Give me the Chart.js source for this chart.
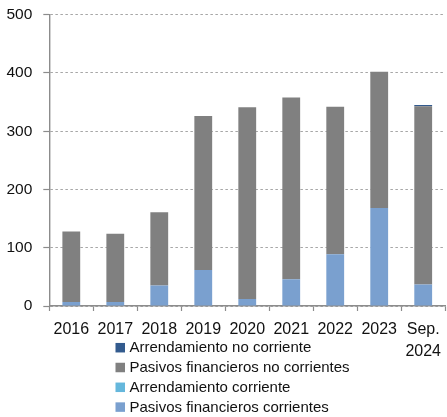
<!DOCTYPE html>
<html>
<head>
<meta charset="utf-8">
<script src="https://cdn.jsdelivr.net/npm/chart.js@4/dist/chart.umd.min.js"></script>
<style>
  html, body { margin: 0; padding: 0; background: #fff; overflow: hidden; }
  #wrap { width: 449px; height: 417px; }
</style>
</head>
<body>
<div id="wrap"><canvas id="c" width="449" height="417"></canvas></div>
<script>
// Deuda financiera por componente (stacked)
const categories = ['2016', '2017', '2018', '2019', '2020', '2021', '2022', '2023', ['Sep.', '2024']];
const pasivosFinancierosCorrientes   = [7, 7, 35, 62, 12, 46, 89, 168, 37];
const arrendamientoCorriente         = [0, 0, 0, 0, 0, 0, 0, 0, 0];
const pasivosFinancierosNoCorrientes = [121, 117, 126, 264, 329, 312, 253, 234, 306];
const arrendamientoNoCorriente       = [0, 0, 0, 0, 0, 0, 0, 0, 2];
const yTicks = [0, 100, 200, 300, 400, 500];

const FONT = '"Liberation Sans", Arial, sans-serif';

// Vertical legend listed top-down in reverse stacking order
const sideLegend = {
  id: 'sideLegend',
  afterDraw(chart) {
    const ctx = chart.ctx;
    const ds = chart.data.datasets.slice().reverse();
    const x0 = 115.5, box = 9.5, textX = 129.5, y0 = 347.7, step = 19.8;
    ctx.save();
    ctx.font = '15px ' + FONT;
    ctx.textBaseline = 'middle';
    ctx.textAlign = 'left';
    ds.forEach((d, i) => {
      const cy = y0 + i * step;
      ctx.fillStyle = d.backgroundColor;
      ctx.fillRect(x0, cy - box / 2, box, box);
      ctx.fillStyle = '#111';
      ctx.fillText(d.label, textX, cy + 0.5);
    });
    ctx.restore();
  }
};

const barStyle = { barPercentage: 0.405, categoryPercentage: 1.0, borderWidth: 0 };

new Chart(document.getElementById('c'), {
  type: 'bar',
  data: {
    labels: categories,
    datasets: [
      { label: 'Pasivos financieros corrientes', data: pasivosFinancierosCorrientes, backgroundColor: '#7aa0cf', ...barStyle },
      { label: 'Arrendamiento corriente', data: arrendamientoCorriente, backgroundColor: '#65b7dc', ...barStyle },
      { label: 'Pasivos financieros no corrientes', data: pasivosFinancierosNoCorrientes, backgroundColor: '#808080', ...barStyle },
      { label: 'Arrendamiento no corriente', data: arrendamientoNoCorriente, backgroundColor: '#335b8e', ...barStyle }
    ]
  },
  options: {
    responsive: false,
    animation: false,
    layout: { padding: { top: 14.7, right: 0, bottom: 0, left: 0 } },
    plugins: { legend: { display: false }, tooltip: { enabled: false } },
    scales: {
      x: {
        stacked: true,
        grid: { display: true, drawOnChartArea: false, offset: true, drawTicks: true, tickLength: 5, tickColor: '#8c8c8c', tickWidth: 1.2 },
        border: { display: true, color: '#8c8c8c', width: 1.4 },
        ticks: { color: '#111', font: { family: FONT, size: 16, lineHeight: 1.35 }, padding: 8, maxRotation: 0, autoSkip: false },
        afterFit(scale) { scale.height = 111; }
      },
      y: {
        stacked: true,
        min: 0,
        max: 500,
        afterBuildTicks(scale) { scale.ticks = yTicks.map(v => ({ value: v })); },
        grid: { color: '#a6a6a6', lineWidth: 1, drawTicks: true, tickLength: 6, tickColor: '#8c8c8c', tickBorderDash: [], tickWidth: 1.2 },
        border: { display: true, color: '#8c8c8c', width: 1.4, dash: [2.5, 2.5] },
        ticks: { color: '#111', font: { family: FONT, size: 15.5 }, padding: 11 },
        afterFit(scale) { scale.width = 49.3; scale.paddingTop = 0; scale.paddingBottom = 0; }
      }
    }
  },
  plugins: [sideLegend]
});
</script>
</body>
</html>
